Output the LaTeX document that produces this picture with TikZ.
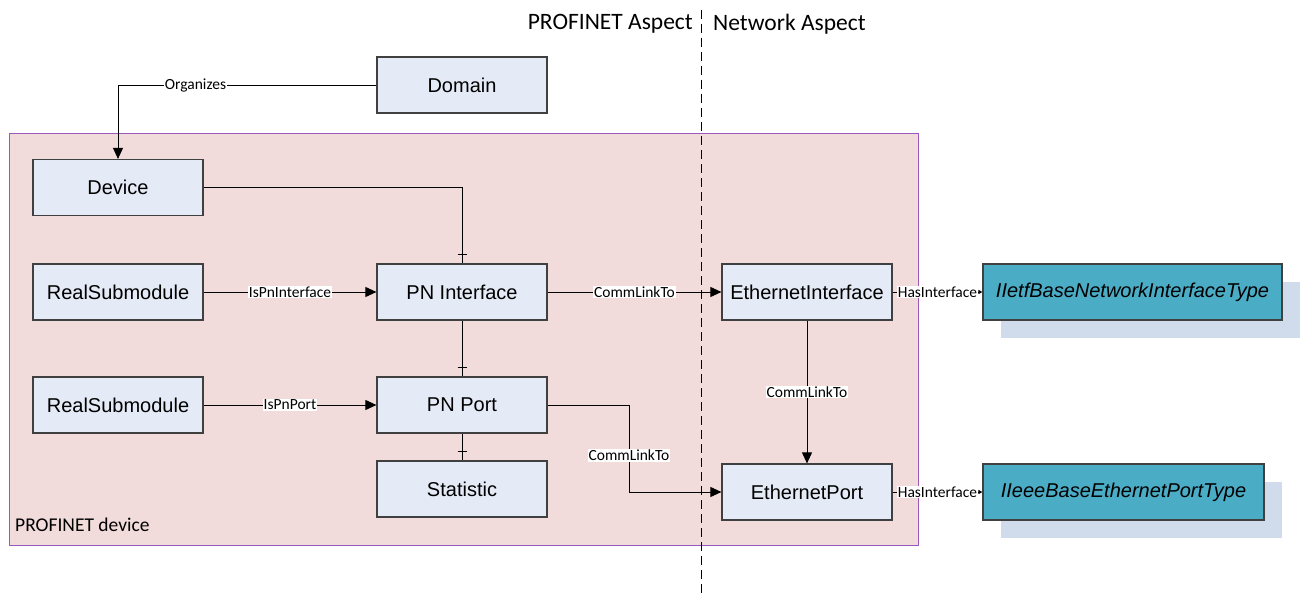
\documentclass[tikz,border=0pt]{standalone}
\usepackage{fontspec}
\setmainfont{Liberation Sans}
\newfontfamily\carl{Carlito}
\usetikzlibrary{arrows.meta,decorations.markings,calc}
\definecolor{boxfill}{RGB}{228,235,246}
\definecolor{boxline}{RGB}{64,64,64}
\definecolor{pinkbg}{RGB}{242,220,219}
\definecolor{purpleline}{RGB}{155,89,190}
\definecolor{tealfill}{RGB}{75,172,198}
\definecolor{shadowfill}{RGB}{208,219,236}
\begin{document}
\begin{tikzpicture}[x=1pt,y=-1pt,
  classbox/.style={draw=boxline,line width=1.2pt,fill=boxfill,minimum width=170pt,minimum height=56pt,inner sep=0pt,font=\fontsize{20}{24}\selectfont},
  ifbox/.style={draw=boxline,line width=1.2pt,fill=tealfill,minimum height=56pt,inner sep=0pt,font=\fontsize{20}{24}\selectfont\itshape},
  shadowbox/.style={fill=shadowfill,draw=none},
  conn/.style={line width=0.9pt,draw=black,-{Triangle[length=11pt,width=10pt]}},
  smallconn/.style={line width=0.9pt,draw=black,-{Triangle[length=4pt,width=4pt]}},
  plainconn/.style={line width=0.9pt,draw=black},
  tickend/.style={postaction={decorate},decoration={markings,mark=at position -9pt with {\draw[line width=0.9pt] (0,-4.5pt)--(0,4.5pt);}}},
  lbl/.style={fill=white,inner sep=1pt,font=\carl\fontsize{15.5}{18}\selectfont},
  aspect/.style={font=\carl\fontsize{23.5}{28}\selectfont,inner sep=0pt}
]
\useasboundingbox[fill=white] (0,0) rectangle (1302,594);
% PROFINET device container
\node[draw=purpleline,line width=1pt,fill=pinkbg,minimum width=909pt,minimum height=412pt,inner sep=0pt,anchor=north west] (container) at (9,133) {};
\node[anchor=west,inner sep=0pt,font=\carl\fontsize{19.5}{23}\selectfont] (contlbl) at (15,525) {PROFINET device};
% aspect divider
\coordinate (divtop) at (701,10);
\coordinate (divbot) at (701,594);
\draw[line width=1pt,dash pattern=on 9pt off 5pt] (divtop) -- (divbot);
\node[aspect,anchor=east] (pasp) at (693,24) {PROFINET Aspect};
\node[aspect,anchor=west] (nasp) at (713,24) {Network Aspect};
% shadows
\fill[shadowbox] (1001,282) rectangle (1300,338);
\fill[shadowbox] (1001,482) rectangle (1282,538);
% nodes
\node[classbox] (dom) at (462,85) {Domain};
\node[classbox] (dev) at (118,187.5) {Device};
\node[classbox] (rs1) at (118,292) {RealSubmodule};
\node[classbox] (pni) at (462,292) {PN Interface};
\node[classbox] (rs2) at (118,405) {RealSubmodule};
\node[classbox] (pnp) at (462,405) {PN Port};
\node[classbox] (stat) at (462,489) {Statistic};
\node[classbox] (ethi) at (807,292) {EthernetInterface};
\node[classbox] (ethp) at (807,492) {EthernetPort};
\node[ifbox,minimum width=299pt] (ietf) at (1132.5,292) {IIetfBaseNetworkInterfaceType};
\node[ifbox,minimum width=281pt] (ieee) at (1123.5,492) {IIeeeBaseEthernetPortType};
% connectors
\draw[conn] (dom.west) -| (dev.north) node[lbl,pos=0.35] {Organizes};
\draw[plainconn,tickend] (dev.east) -| (pni.north);
\draw[conn] (rs1.east) -- (pni.west) node[lbl,pos=0.5] {IsPnInterface};
\draw[plainconn,tickend] (pni.south) -- (pnp.north);
\draw[plainconn,tickend] (pnp.south) -- (stat.north);
\draw[conn] (rs2.east) -- (pnp.west) node[lbl,pos=0.5] {IsPnPort};
\draw[conn] (pni.east) -- (ethi.west) node[lbl,pos=0.5] {CommLinkTo};
\coordinate (bend) at (629,405);
\draw[conn] (pnp.east) -- (bend) |- (ethp.west) node[lbl,pos=0.29] {CommLinkTo};
\draw[conn] (ethi.south) -- (ethp.north) node[lbl,pos=0.5] {CommLinkTo};
\draw[smallconn] (ethi.east) -- (ietf.west) node[lbl,pos=0.5] {HasInterface};
\draw[smallconn] (ethp.east) -- (ieee.west) node[lbl,pos=0.5] {HasInterface};
\end{tikzpicture}
\end{document}
